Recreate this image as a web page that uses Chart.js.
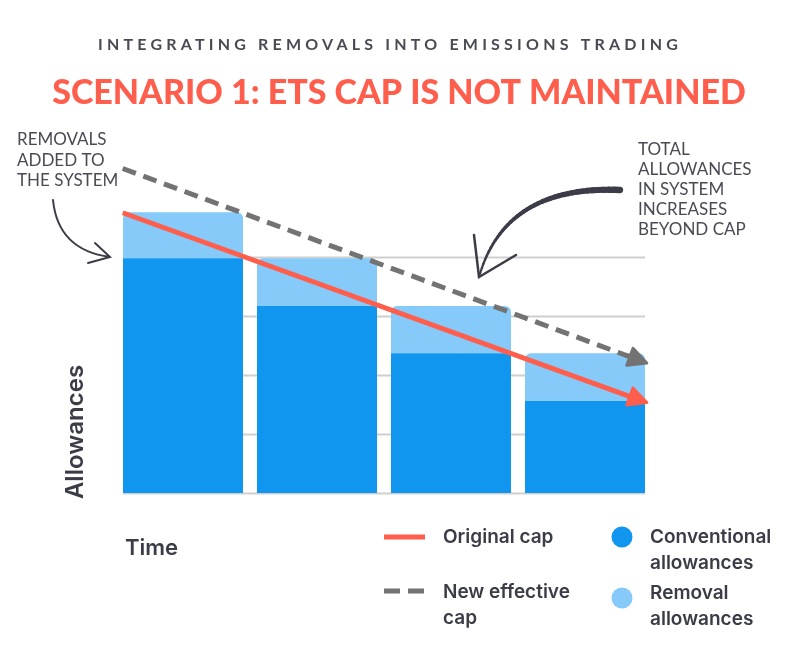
<!DOCTYPE html>
<html>
<head>
<meta charset="utf-8">
<script src="https://cdn.jsdelivr.net/npm/chart.js@4.4.1/dist/chart.umd.min.js"></script>
<style>
  html, body { margin: 0; padding: 0; background: #fff; }
  #wrap { width: 800px; height: 650px; position: relative; }
</style>
</head>
<body>
<div id="wrap"><canvas id="chart1"></canvas></div>
<script>
 // Chart values
 const periods = ['Period 1', 'Period 2', 'Period 3', 'Period 4'];
 const conventional = [3.98, 3.17, 2.37, 1.56];
 const removal = [0.78, 0.81, 0.80, 0.81];
 const capX = [0.05, 3.94];
 const originalCap = [4.75, 1.55];
 const newCap = [5.5, 2.22];
 const gridValues = [0, 1, 2, 3, 4];

 const INK = '#3c3c48';
 const FONT = 'Lato, "Open Sans", sans-serif';
 const FONT2 = 'Inter, "Open Sans", sans-serif';

 const data = {
     labels: periods,
     datasets: [{
         label: 'Original cap',
         type: 'line',
         xAxisID: 'x2',
         stack: 'orig',
         data: capX.map((x, i) => ({ x: x, y: originalCap[i] })),
         borderColor: '#ff5e4d',
         borderWidth: 5,
         pointRadius: 0,
         fill: false,
         order: 0
     }, {
         label: 'New effective cap',
         type: 'line',
         xAxisID: 'x2',
         stack: 'new',
         data: capX.map((x, i) => ({ x: x, y: newCap[i] })),
         borderColor: '#737373',
         borderWidth: 5,
         borderDash: [14, 8],
         pointRadius: 0,
         fill: false,
         order: 0
     }, {
         label: 'Conventional allowances',
         data: conventional,
         stack: 'bars',
         grouped: false,
         backgroundColor: '#1196f0',
         barPercentage: 120 / 134,
         categoryPercentage: 1,
         order: 1
     }, {
         label: 'Removal allowances',
         data: removal,
         stack: 'bars',
         grouped: false,
         backgroundColor: '#85caf9',
         barPercentage: 120 / 134,
         categoryPercentage: 1,
         borderRadius: { topLeft: 6, topRight: 6, bottomLeft: 0, bottomRight: 0 },
         borderSkipped: false,
         order: 1
     }]
 };

 // grid lines only between the first and last bar edge
 const gridPlugin = {
     id: 'grid',
     beforeDatasetsDraw(chart) {
         const ctx = chart.ctx;
         const y = chart.scales.y;
         const bars = chart.getDatasetMeta(2).data;
         const left = bars[0].x - bars[0].width / 2;
         const right = bars[bars.length - 1].x + bars[bars.length - 1].width / 2;
         ctx.save();
         ctx.strokeStyle = '#cfcfcf';
         ctx.lineWidth = 2;
         gridValues.forEach(v => {
             const py = Math.round(y.getPixelForValue(v)) + 0.5;
             ctx.beginPath();
             ctx.moveTo(left, py);
             ctx.lineTo(right, py);
             ctx.stroke();
         });
         ctx.restore();
     }
 };

 function arrowHead(ctx, x, y, ang, color) {
     const len = 18, half = 9;
     const tx = x + Math.cos(ang) * 3, ty = y + Math.sin(ang) * 3;
     const bx = tx - Math.cos(ang) * len, by = ty - Math.sin(ang) * len;
     const nx = -Math.sin(ang), ny = Math.cos(ang);
     ctx.save();
     ctx.fillStyle = color;
     ctx.strokeStyle = color;
     ctx.lineWidth = 3;
     ctx.lineJoin = 'round';
     ctx.beginPath();
     ctx.moveTo(tx, ty);
     ctx.lineTo(bx + nx * half, by + ny * half);
     ctx.lineTo(bx - nx * half, by - ny * half);
     ctx.closePath();
     ctx.fill();
     ctx.stroke();
     ctx.restore();
 }

 const arrowPlugin = {
     id: 'arrows',
     afterDatasetsDraw(chart) {
         [0, 1].forEach(i => {
             const pts = chart.getDatasetMeta(i).data;
             const a = pts[pts.length - 2], b = pts[pts.length - 1];
             const ang = Math.atan2(b.y - a.y, b.x - a.x);
             arrowHead(chart.ctx, b.x, b.y, ang, chart.data.datasets[i].borderColor);
         });
     }
 };

 function lines(ctx, arr, x, y0, step) {
     arr.forEach((t, i) => ctx.fillText(t, x, y0 + i * step));
 }

 const decorPlugin = {
     id: 'decor',
     afterDraw(chart) {
         const ctx = chart.ctx;
         const ds = chart.data.datasets;
         ctx.save();
         ctx.textBaseline = 'middle';

         // headings
         ctx.fillStyle = '#4a4a55';
         ctx.font = '700 16px ' + FONT;
         ctx.textAlign = 'center';
         ctx.letterSpacing = '4.2px';
         ctx.fillText('INTEGRATING REMOVALS INTO EMISSIONS TRADING', 390, 45);
         ctx.letterSpacing = '0px';
         ctx.fillStyle = '#ff5e4d';
         ctx.font = '900 34px ' + FONT;
         ctx.fillText('SCENARIO 1: ETS CAP IS NOT MAINTAINED', 399, 93);

         // annotations
         ctx.textAlign = 'left';
         ctx.fillStyle = '#4a4a55';
         ctx.font = '400 17px ' + FONT;
         lines(ctx, ['REMOVALS', 'ADDED TO', 'THE SYSTEM'], 17, 140, 20.5);
         lines(ctx, ['TOTAL', 'ALLOWANCES', 'IN SYSTEM', 'INCREASES', 'BEYOND CAP'], 638, 150, 19.8);

         ctx.strokeStyle = INK;
         ctx.lineCap = 'round';
         ctx.lineWidth = 2;
         ctx.beginPath();
         ctx.moveTo(53, 200);
         ctx.quadraticCurveTo(58, 250, 110, 257);
         ctx.moveTo(95, 243); ctx.lineTo(110, 257); ctx.lineTo(88, 263);
         ctx.stroke();

         // tapered curved arrow on the right
         const p0 = [620, 190], c = [505, 185], p1 = [479, 277];
         const N = 40;
         let prev = p0;
         for (let k = 1; k <= N; k++) {
             const t = k / N;
             const q = [(1 - t) * (1 - t) * p0[0] + 2 * (1 - t) * t * c[0] + t * t * p1[0],
                        (1 - t) * (1 - t) * p0[1] + 2 * (1 - t) * t * c[1] + t * t * p1[1]];
             ctx.lineWidth = 6.5 - 4.5 * t;
             ctx.beginPath();
             ctx.moveTo(prev[0], prev[1]);
             ctx.lineTo(q[0], q[1]);
             ctx.stroke();
             prev = q;
         }
         ctx.lineWidth = 2.5;
         ctx.beginPath();
         ctx.moveTo(474, 235); ctx.lineTo(479, 277); ctx.lineTo(516, 255);
         ctx.stroke();

         // axis titles
         ctx.fillStyle = INK;
         ctx.font = '600 22px ' + FONT2;
         ctx.fillText('Time', 125, 548);
         ctx.save();
         ctx.translate(76, 432);
         ctx.rotate(-Math.PI / 2);
         ctx.textAlign = 'center';
         ctx.font = '600 24px ' + FONT2;
         ctx.fillText('Allowances', 0, 0);
         ctx.restore();

         // legend
         ctx.lineCap = 'butt';
         ctx.lineWidth = 5;
         ctx.strokeStyle = ds[0].borderColor;
         ctx.beginPath(); ctx.moveTo(384, 537); ctx.lineTo(425, 537); ctx.stroke();
         ctx.strokeStyle = ds[1].borderColor;
         ctx.setLineDash([16, 8]);
         ctx.beginPath(); ctx.moveTo(384, 591); ctx.lineTo(425, 591); ctx.stroke();
         ctx.setLineDash([]);
         ctx.fillStyle = ds[2].backgroundColor;
         ctx.beginPath(); ctx.arc(622, 537, 10.5, 0, Math.PI * 2); ctx.fill();
         ctx.fillStyle = ds[3].backgroundColor;
         ctx.beginPath(); ctx.arc(622, 598, 10.5, 0, Math.PI * 2); ctx.fill();

         ctx.fillStyle = INK;
         ctx.font = '600 19px ' + FONT2;
         ctx.fillText('Original cap', 443, 537);
         lines(ctx, ['New effective', 'cap'], 443, 592, 26);
         lines(ctx, ['Conventional', 'allowances'], 650, 537, 26);
         lines(ctx, ['Removal', 'allowances'], 650, 593, 26);
         ctx.restore();
     }
 };

 const options = {
     responsive: true,
     maintainAspectRatio: false,
     animation: false,
     layout: { padding: { left: 116, right: 148, top: 139, bottom: 157 } },
     plugins: {
         legend: { display: false },
         tooltip: { enabled: false }
     },
     scales: {
         x: { type: 'category', stacked: true, offset: true, display: false },
         x2: { type: 'linear', min: 0, max: 4, offset: false, display: false },
         y: { min: 0, max: 6, stacked: true, display: false }
     }
 };

 const ctx = document.getElementById('chart1').getContext('2d');
 const myChart = new Chart(ctx, {
     type: 'bar',
     data: data,
     options: options,
     plugins: [gridPlugin, arrowPlugin, decorPlugin]
 });
</script>
</body>
</html>
